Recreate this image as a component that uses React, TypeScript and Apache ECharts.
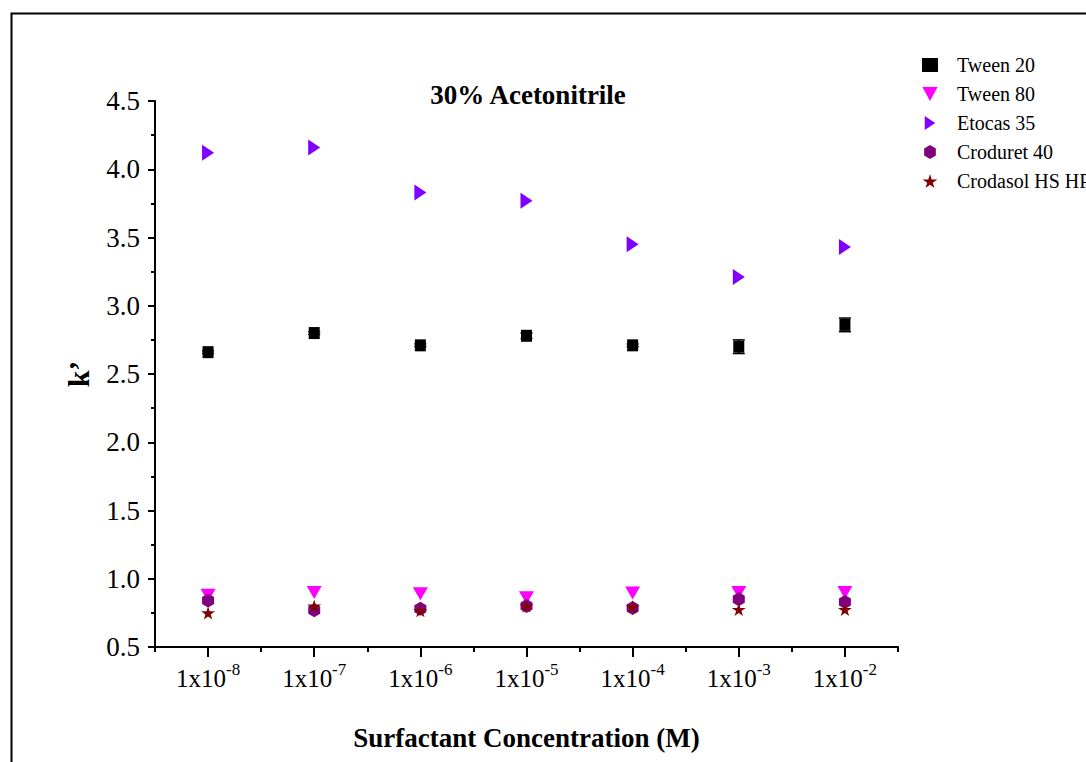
import React, { useEffect, useRef } from "react";
import * as echarts from "echarts";

const exponents = ["-8", "-7", "-6", "-5", "-4", "-3", "-2"];
const tween20 = [2.66, 2.8, 2.71, 2.78, 2.71, 2.7, 2.86];
const tween20Err = [0.01, 0.01, 0.01, 0.02, 0.01, 0.05, 0.05];
const tween80 = [0.88, 0.9, 0.89, 0.86, 0.895, 0.9, 0.9];
const etocas35 = [4.12, 4.16, 3.83, 3.77, 3.45, 3.21, 3.43];
const croduret40 = [0.84, 0.77, 0.78, 0.8, 0.785, 0.85, 0.83];
const crodasol = [0.75, 0.8, 0.765, 0.8, 0.795, 0.775, 0.775];
const yTicks = { min: 0.5, max: 4.5, interval: 0.5 };

const FONT = "'Liberation Serif', 'Times New Roman', serif";
const HEX = "path://M5,0 L10,3 L10,9 L5,12 L0,9 L0,3 Z";
const STAR =
  "path://M50,0 L61,35 L98,35 L68,57 L79,91 L50,70 L21,91 L32,57 L2,35 L39,35 Z";
const TRI_DOWN = "path://M0,0 L12,0 L6,11 Z";
const TRI_RIGHT = "path://M0,0 L12,8 L0,16 Z";

const tickStyle = { color: "#000", width: 2 };

export default function App() {
  const ref = useRef<HTMLDivElement>(null);
  useEffect(() => {
    document.body.style.margin = "0";
    const chart = echarts.init(ref.current!, null, { renderer: "svg" });
    const cats = exponents.map((e) => `1x10^${e}`);
    const tickOnlyX = (align: boolean, len: number) => ({
      type: "category",
      data: cats,
      position: "bottom",
      boundaryGap: true,
      axisLine: { show: false },
      axisTick: { show: true, interval: 0, alignWithLabel: align, length: len, lineStyle: tickStyle },
      axisLabel: { show: false },
      splitLine: { show: false },
    });
    chart.setOption({
      animation: false,
      backgroundColor: "#fff",
      textStyle: { fontFamily: FONT },
      title: {
        text: "30% Acetonitrile",
        left: 523,
        top: 76,
        textAlign: "center",
        textStyle: { fontFamily: FONT, fontWeight: "bold", fontSize: 27, color: "#000" },
      },
      graphic: [
        {
          type: "rect",
          left: 9,
          top: 11,
          z: -1,
          shape: { width: 1100, height: 800 },
          style: { fill: "none", stroke: "#000", lineWidth: 2 },
          silent: true,
        },
      ],
      legend: {
        orient: "vertical",
        left: 917,
        top: 50,
        itemWidth: 16,
        itemHeight: 14,
        itemGap: 9,
        textStyle: { fontFamily: FONT, fontSize: 20, color: "#000", padding: [0, 0, 0, 14] },
        data: ["Tween 20", "Tween 80", "Etocas 35", "Croduret 40", "Crodasol HS HP"],
      },
      grid: { left: 155, right: 188, top: 101, bottom: 115 },
      xAxis: [
        {
          type: "category",
          data: cats,
          position: "bottom",
          boundaryGap: true,
          name: "Surfactant Concentration (M)",
          nameLocation: "middle",
          nameGap: 77,
          nameTextStyle: { fontFamily: FONT, fontWeight: "bold", fontSize: 27, color: "#000" },
          axisLine: { show: true, lineStyle: { color: "#000", width: 2 } },
          axisTick: { show: false },
          axisLabel: {
            interval: 0,
            margin: 14,
            fontFamily: FONT,
            fontSize: 25,
            color: "#000",
            formatter: (v: string) => {
              const [a, b] = v.split("^");
              return `{a|${a}}{b|${b}}`;
            },
            rich: {
              a: { fontFamily: FONT, fontSize: 25, color: "#000", lineHeight: 30, verticalAlign: "bottom" },
              b: { fontFamily: FONT, fontSize: 17, color: "#000", lineHeight: 30, verticalAlign: "top", padding: [0, 0, 12, 0] },
            },
          },
          splitLine: { show: false },
        },
        tickOnlyX(false, 5),
        tickOnlyX(true, 10),
      ],
      yAxis: [
        {
          type: "value",
          min: yTicks.min,
          max: yTicks.max,
          interval: yTicks.interval,
          name: "k\u2019",
          nameLocation: "middle",
          nameGap: 62,
          nameRotate: 90,
          nameTextStyle: { fontFamily: FONT, fontWeight: "bold", fontSize: 30, color: "#000" },
          axisLine: { show: true, lineStyle: { color: "#000", width: 2 } },
          axisTick: { show: false },
          minorTick: { show: true, splitNumber: 2, length: 4, lineStyle: tickStyle },
          axisLabel: {
            margin: 15,
            fontFamily: FONT,
            fontSize: 27,
            color: "#000",
            formatter: (v: number) => v.toFixed(1),
          },
          splitLine: { show: false },
        },
        {
          type: "value",
          position: "left",
          min: yTicks.min,
          max: yTicks.max,
          interval: yTicks.interval,
          axisLine: { show: false },
          axisTick: { show: true, length: 7, lineStyle: tickStyle },
          axisLabel: { show: false },
          splitLine: { show: false },
        },
      ],
      series: [
        {
          name: "Tween 20",
          type: "scatter",
          data: tween20,
          symbol: "rect",
          symbolSize: [11, 12],
          itemStyle: { color: "#000", opacity: 1 },
          z: 3,
        },
        {
          name: "Tween 20 err",
          type: "custom",
          data: tween20.map((v, i) => [i, v, tween20Err[i]]),
          renderItem: (params: any, api: any) => {
            const x = api.value(0);
            const y = api.value(1);
            const e = api.value(2);
            const top = api.coord([x, y + e]);
            const bot = api.coord([x, y - e]);
            const st = { stroke: "#000", lineWidth: 1.5 };
            return {
              type: "group",
              children: [
                { type: "line", shape: { x1: top[0], y1: top[1], x2: bot[0], y2: bot[1] }, style: st },
                { type: "line", shape: { x1: top[0] - 6, y1: top[1], x2: top[0] + 6, y2: top[1] }, style: st },
                { type: "line", shape: { x1: bot[0] - 6, y1: bot[1], x2: bot[0] + 6, y2: bot[1] }, style: st },
              ],
            };
          },
          z: 2,
          silent: true,
        },
        {
          name: "Tween 80",
          type: "scatter",
          data: tween80,
          symbol: TRI_DOWN,
          symbolSize: [15, 13],
          itemStyle: { color: "#FF00FF", opacity: 1 },
          z: 3,
        },
        {
          name: "Etocas 35",
          type: "scatter",
          data: etocas35,
          symbol: TRI_RIGHT,
          symbolSize: [12, 16],
          itemStyle: { color: "#8000FF", opacity: 1 },
          z: 3,
        },
        {
          name: "Croduret 40",
          type: "scatter",
          data: croduret40,
          symbol: HEX,
          symbolSize: [12, 14],
          itemStyle: { color: "#800080", opacity: 1 },
          z: 4,
        },
        {
          name: "Crodasol HS HP",
          type: "scatter",
          data: crodasol,
          symbol: STAR,
          symbolSize: [14, 13],
          itemStyle: { color: "#800000", opacity: 1 },
          z: 5,
        },
      ],
    });
    return () => chart.dispose();
  }, []);
  return <div ref={ref} style={{ width: 1086, height: 762 }} />;
}
